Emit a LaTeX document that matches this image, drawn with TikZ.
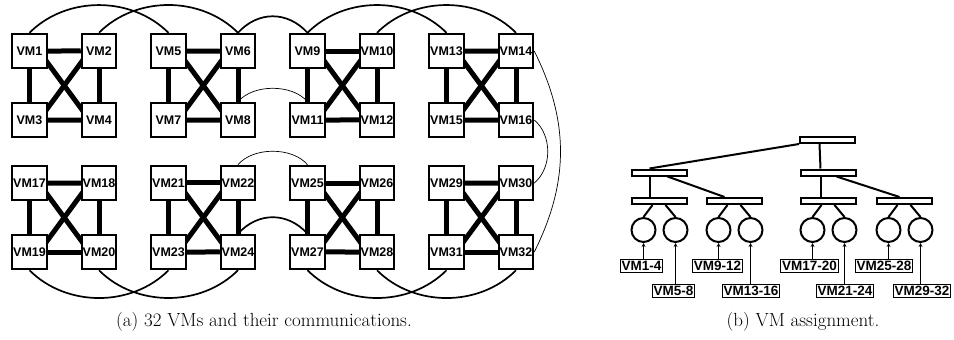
\documentclass[tikz,border=0pt]{standalone}
\usepackage{fontspec}
\newfontfamily\vmsans{Liberation Sans}
\usetikzlibrary{matrix, arrows, positioning, backgrounds}
\tikzset{
  vm/.style={draw, line width=2pt, fill=white, minimum size=34.5pt, inner sep=0pt, font=\vmsans\bfseries\fontsize{12.5}{12.5}\selectfont},
  vmlink/.style={line width=5pt},
  commarc/.style={line width=1.7pt},
  thinarc/.style={line width=0.7pt},
  sw/.style={draw, line width=2pt, minimum width=55pt, minimum height=6pt, inner sep=0pt},
  pm/.style={draw, circle, line width=2pt, minimum size=24pt, inner sep=0pt},
  lbl/.style={draw, line width=1.2pt, inner sep=1.5pt, font=\vmsans\bfseries\fontsize{13.5}{13.5}\selectfont},
  treeline/.style={line width=2pt},
  captext/.style={font=\fontsize{19}{21}\selectfont}
}
\begin{document}
\begin{tikzpicture}[x=1pt, y=1pt]
\useasboundingbox (0,0) rectangle (954,-340);
\matrix (m) [matrix of nodes, column sep={69.5pt,between origins}, row sep={69pt,between origins}] at (272.75,-151.5) {
\node[vm](v1){VM1}; & \node[vm](v2){VM2}; & \node[vm](v5){VM5}; & \node[vm](v6){VM6}; & \node[vm](v9){VM9}; & \node[vm](v10){VM10}; & \node[vm](v13){VM13}; & \node[vm](v14){VM14}; \\
\node[vm](v3){VM3}; & \node[vm](v4){VM4}; & \node[vm](v7){VM7}; & \node[vm](v8){VM8}; & \node[vm](v11){VM11}; & \node[vm](v12){VM12}; & \node[vm](v15){VM15}; & \node[vm](v16){VM16}; \\[-6pt]
\node[vm](v17){VM17}; & \node[vm](v18){VM18}; & \node[vm](v21){VM21}; & \node[vm](v22){VM22}; & \node[vm](v25){VM25}; & \node[vm](v26){VM26}; & \node[vm](v29){VM29}; & \node[vm](v30){VM30}; \\
\node[vm](v19){VM19}; & \node[vm](v20){VM20}; & \node[vm](v23){VM23}; & \node[vm](v24){VM24}; & \node[vm](v27){VM27}; & \node[vm](v28){VM28}; & \node[vm](v31){VM31}; & \node[vm](v32){VM32}; \\
};
\begin{scope}[on background layer]
\foreach \a/\b/\c/\d in {1/2/3/4, 5/6/7/8, 9/10/11/12, 13/14/15/16, 17/18/19/20, 21/22/23/24, 25/26/27/28, 29/30/31/32} {
  \draw[vmlink] (v\a) -- (v\b);
  \draw[vmlink] (v\c) -- (v\d);
  \draw[vmlink] (v\a) -- (v\c);
  \draw[vmlink] (v\b) -- (v\d);
  \draw[vmlink] ([shift={(-6pt,-3.9pt)}]v\a.east) -- ([shift={(6pt,3.9pt)}]v\d.west);
  \draw[vmlink] ([shift={(6pt,-3.9pt)}]v\b.west) -- ([shift={(-6pt,3.9pt)}]v\c.east);
}
\end{scope}
\draw[commarc] (v1.north) .. controls +(37,37) and +(-37,37) .. (v5.north);
\draw[commarc] (v2.north) .. controls +(37,37) and +(-37,37) .. (v6.north);
\draw[commarc] (v6.north) .. controls +(20,22) and +(-20,22) .. (v9.north);
\draw[commarc] (v9.north) .. controls +(37,37) and +(-37,37) .. (v13.north);
\draw[commarc] (v10.north) .. controls +(37,37) and +(-37,37) .. (v14.north);
\draw[thinarc] (v8.north) .. controls +(15,18) and +(-15,18) .. (v11.north);
\draw[thinarc] (v22.north) .. controls +(15,18) and +(-15,18) .. (v25.north);
\draw[commarc] (v24.north) .. controls +(20,22) and +(-20,22) .. (v27.north);
\draw[commarc] (v19.south) .. controls +(37,-37) and +(-37,-37) .. (v23.south);
\draw[commarc] (v20.south) .. controls +(37,-37) and +(-37,-37) .. (v24.south);
\draw[commarc] (v27.south) .. controls +(37,-37) and +(-37,-37) .. (v31.south);
\draw[commarc] (v28.south) .. controls +(37,-37) and +(-37,-37) .. (v32.south);
\draw[thinarc] (v14.east) .. controls +(35,-70) and +(35,70) .. (v32.east);
\draw[thinarc] (v16.east) .. controls +(18,-15) and +(18,15) .. (v30.east);

\node[sw] (s0) at (827.5,-140) {};
\node[sw] (s1) at (659.5,-172.5) {};
\node[sw] (s2) at (828.5,-172.5) {};
\node[sw] (t1) at (659.5,-201) {};
\node[sw] (t2) at (734.5,-201) {};
\node[sw] (t3) at (828.5,-201) {};
\node[sw] (t4) at (904.5,-201) {};
\node[pm, below=12pt of t1, xshift=-16pt] (p1) {};
\node[pm, below=12pt of t1, xshift=16pt] (p2) {};
\node[pm, below=12pt of t2, xshift=-16pt] (p3) {};
\node[pm, below=12pt of t2, xshift=16pt] (p4) {};
\node[pm, below=12pt of t3, xshift=-16pt] (p5) {};
\node[pm, below=12pt of t3, xshift=16pt] (p6) {};
\node[pm, below=12pt of t4, xshift=-16pt] (p7) {};
\node[pm, below=12pt of t4, xshift=16pt] (p8) {};
\draw[treeline] (s0.south west) -- ([xshift=-10pt]s1.north);
\draw[treeline] ([xshift=-8pt]s0.south) -- ([xshift=-8pt]s2.north);
\draw[treeline] ([xshift=-10pt]s1.south) -- ([xshift=-10pt]t1.north);
\draw[treeline] ([xshift=8pt]s1.south) -- ([xshift=-10pt]t2.north);
\draw[treeline] ([xshift=-8pt]s2.south) -- ([xshift=-8pt]t3.north);
\draw[treeline] ([xshift=8pt]s2.south) -- ([xshift=-5pt]t4.north);
\foreach \t/\l/\r in {t1/p1/p2, t2/p3/p4, t3/p5/p6, t4/p7/p8} {
  \draw[treeline] ([xshift=-7pt]\t.south) -- (\l.north);
  \draw[treeline] ([xshift=6pt]\t.south) -- (\r.north);
}
\node[lbl] (n1) at (641.5,-266) {VM1-4};
\node[lbl] (n2) at (673.5,-291) {VM5-8};
\node[lbl] (n3) at (717.5,-266) {VM9-12};
\node[lbl] (n4) at (751,-291) {VM13-16};
\node[lbl] (n5) at (809.5,-266) {VM17-20};
\node[lbl] (n6) at (845,-291) {VM21-24};
\node[lbl] (n7) at (884,-266) {VM25-28};
\node[lbl] (n8) at (922,-291) {VM29-32};
\foreach \i in {1,...,8}
  \draw[->, >=stealth, line width=0.8pt] (p\i |- n\i.north) -- (p\i.south);

\node[captext] (ca) at (264,-322) {(a) 32 VMs and their communications.};
\node[captext] (cb) at (803,-322) {(b) VM assignment.};
\end{tikzpicture}
\end{document}
